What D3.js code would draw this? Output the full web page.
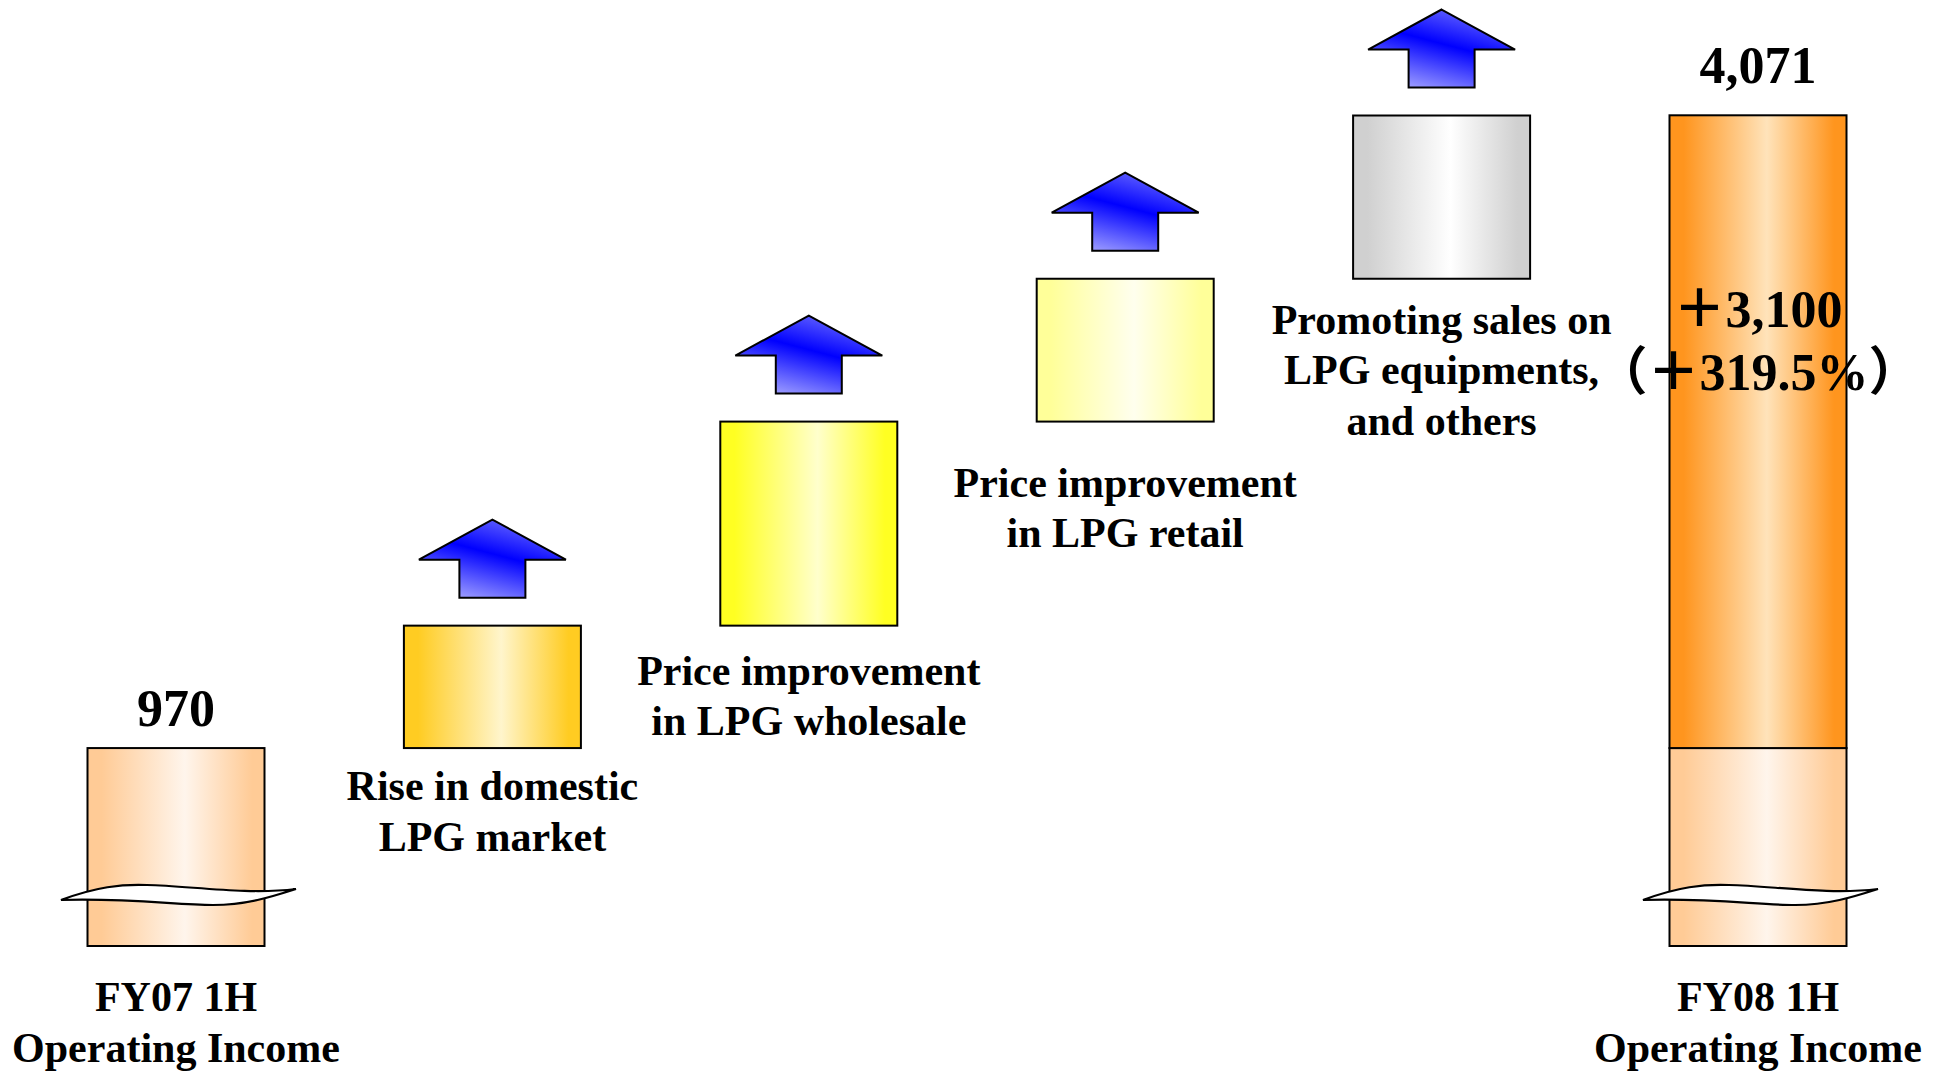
<!DOCTYPE html>
<html>
<head>
<meta charset="utf-8">
<script src="https://cdn.jsdelivr.net/npm/d3@7/dist/d3.min.js"></script>
<style>
  html, body { margin: 0; padding: 0; background: #ffffff; }
  svg { display: block; }
  text { font-family: "Liberation Serif", "Times New Roman", "Noto Sans CJK JP", serif; font-weight: bold; fill: #000; }
</style>
</head>
<body>
<svg id="chart" width="1944" height="1073"></svg>
<script>
// Operating income bridge, FY07 1H -> FY08 1H (units as reported)
const categories = ["FY07", "domestic", "wholesale", "retail", "equipment", "FY08"];
const categoryLabels = [
  ["FY07 1H", "Operating Income"],
  ["Rise in domestic", "LPG market"],
  ["Price improvement", "in LPG wholesale"],
  ["Price improvement", "in LPG retail"],
  ["Promoting sales on", "LPG equipments,", "and others"],
  ["FY08 1H", "Operating Income"]
];
const startValue = 970;
const changes = [600, 1000, 700, 800];
const endValue = 4071;
const valueLabels = ["970", "4,071"];
const totalChangeLabels = ["＋3,100", "（＋319.5%）"];

// Fill ramps: [edge colour, highlight colour]
const palette = {
  base:      ["#FFCB96", "#FFF5EC"],
  domestic:  ["#FFCC22", "#FFF5CC"],
  wholesale: ["#FFFF22", "#FFFFCC"],
  retail:    ["#FFFF99", "#FFFFEE"],
  equipment: ["#D0D0D0", "#FFFFFF"],
  total:     ["#FF951E", "#FFE3BA"]
};

const svg = d3.select("#chart");
const x = d3.scalePoint().domain(categories).range([176, 1758]);
const y = d3.scaleLinear().domain([0, endValue]).range([946, 115.3]);
const barW = 177;
const fontSize = 42;
const lineH = 50.5;

const defs = svg.append("defs");
Object.entries(palette).forEach(([key, [edge, light]]) => {
  const g = defs.append("linearGradient").attr("id", "g-" + key)
    .attr("x1", 0).attr("y1", 0).attr("x2", 1).attr("y2", 0);
  [[0, edge], [0.08, edge], [0.55, light], [0.93, edge], [1, edge]].forEach(([o, c]) =>
    g.append("stop").attr("offset", o).attr("stop-color", c));
});
const ag = defs.append("linearGradient").attr("id", "g-arrow")
  .attr("x1", 0.25).attr("y1", 1).attr("x2", 0.75).attr("y2", 0);
[[0, "#A0A0FF"], [0.55, "#0000FF"], [1, "#7070FF"]].forEach(([o, c]) =>
  ag.append("stop").attr("offset", o).attr("stop-color", c));

// Build waterfall segments
const segs = [];
segs.push({ cat: categories[0], y0: 0, y1: startValue, fill: "base" });
let run = startValue;
const stepKeys = ["domestic", "wholesale", "retail", "equipment"];
changes.forEach((c, i) => {
  segs.push({ cat: categories[i + 1], y0: run, y1: run + c, fill: stepKeys[i], step: true });
  run += c;
});
segs.push({ cat: categories[5], y0: 0, y1: startValue, fill: "base" });
segs.push({ cat: categories[5], y0: startValue, y1: endValue, fill: "total" });

svg.append("g").selectAll("rect").data(segs).join("rect")
  .attr("x", d => x(d.cat) - barW / 2)
  .attr("y", d => y(d.y1))
  .attr("width", barW)
  .attr("height", d => y(d.y0) - y(d.y1))
  .attr("fill", d => `url(#g-${d.fill})`)
  .attr("stroke", "#000")
  .attr("stroke-width", 2);

// Up arrows above each increase
const arrowPath = "M0,-106 L73.5,-66 L33,-66 L33,-28 L-33,-28 L-33,-66 L-73.5,-66 Z";
svg.append("g").selectAll("path").data(segs.filter(d => d.step)).join("path")
  .attr("transform", d => `translate(${x(d.cat)},${y(d.y1)})`)
  .attr("d", arrowPath)
  .attr("fill", "url(#g-arrow)")
  .attr("stroke", "#000")
  .attr("stroke-width", 2)
  .attr("stroke-linejoin", "miter");

// Axis-break marks on the two full bars
const breakPath = "M-115,5 C-80,-8 -55,-11 -29,-10 C15,-9 70,0 120,-6 " +
                  "C95,2 70,10 37,10 C0,10 -45,3 -115,5 Z";
svg.append("g").selectAll("path").data([categories[0], categories[5]]).join("path")
  .attr("transform", d => `translate(${x(d)},${y(0) - 51})`)
  .attr("d", breakPath)
  .attr("fill", "#fff")
  .attr("stroke", "#000")
  .attr("stroke-width", 2.2);

// Value labels on the two totals
svg.append("text").attr("x", x(categories[0])).attr("y", y(startValue) - 22)
  .attr("text-anchor", "middle").attr("font-size", 52).text(valueLabels[0]);
svg.append("text").attr("x", x(categories[5])).attr("y", y(endValue) - 32)
  .attr("text-anchor", "middle").attr("font-size", 52).text(valueLabels[1]);

// Total change annotation inside the FY08 bar
totalChangeLabels.forEach((t, i) => {
  svg.append("text").attr("x", x(categories[5])).attr("y", y(endValue) + 212 + i * 63)
    .attr("text-anchor", "middle").attr("font-size", 52).text(t);
});

// Category labels: below the steps, at the bottom for the totals
const stepLabelGap = [52, 59, 75, 55];
categoryLabels.forEach((lines, i) => {
  let top;
  if (i === 0 || i === 5) top = 1011;
  else top = y(segs[i].y0) + stepLabelGap[i - 1];
  const t = svg.append("text").attr("text-anchor", "middle").attr("font-size", fontSize);
  lines.forEach((ln, j) => {
    t.append("tspan").attr("x", x(categories[i])).attr("y", top + j * lineH).text(ln);
  });
});
</script>
</body>
</html>
